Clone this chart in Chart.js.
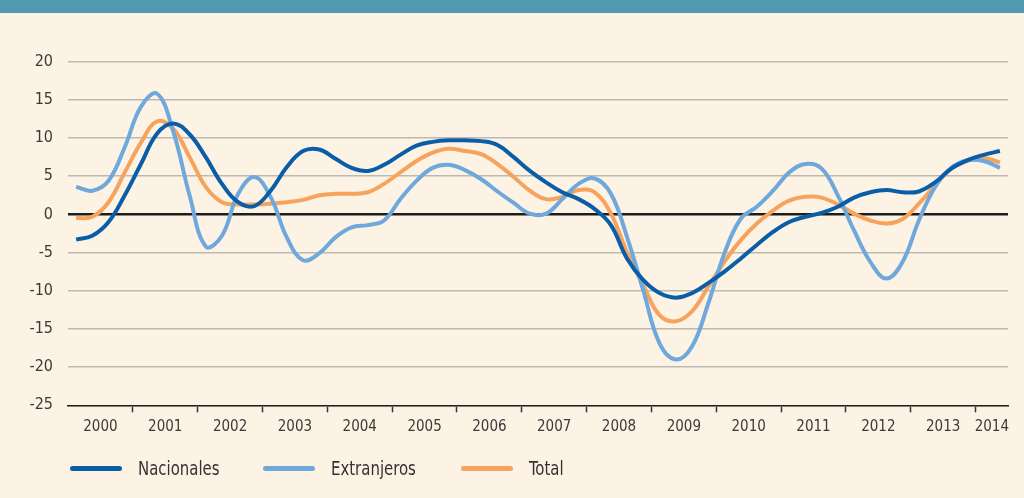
<!DOCTYPE html>
<html>
<head>
<meta charset="utf-8">
<script src="https://cdn.jsdelivr.net/npm/chart.js@4.4.1/dist/chart.umd.min.js"></script>
<style>
    html, body { margin: 0; padding: 0; background: #fdf3e5; }
    #band { height: 13px; background: #5399b0; }
    #wrap { position: relative; width: 1024px; height: 485px; }
    .item { position: absolute; top: 443px; height: 24px; display: flex; align-items: center;
            font: 20px 'Liberation Sans Narrow', 'DejaVu Sans Condensed', 'Roboto', sans-serif; color: #333; }
    .swatch { width: 52px; height: 5px; border-radius: 3px; margin-right: 16px; }
    .name { display: inline-block; transform: scaleX(0.83); transform-origin: left center; white-space: nowrap; }
</style>
</head>
<body>
<div id="band"></div>
<div id="wrap">
    <canvas id="chart"></canvas>
    <div id="legend"></div>
</div>
<script>
const years = ['2000', '2001', '2002', '2003', '2004', '2005', '2006', '2007',
    '2008', '2009', '2010', '2011', '2012', '2013', '2014'];

// quarterly values, 2000-I to 2014-II
const nacionales = [
    -3.3, -2.8, -1.0, 2.5, 6.6, 10.6, 11.9, 10.5, 7.5, 4.0, 1.6, 1.1,
    3.1, 6.2, 8.3, 8.5, 7.3, 6.1, 5.7, 6.5, 7.8, 9.0, 9.5, 9.7,
    9.7, 9.6, 9.1, 7.5, 5.7, 4.2, 2.9, 2.0, 0.7, -1.4, -5.8, -8.6,
    -10.3, -10.9, -10.3, -9.0, -7.5, -5.8, -4.0, -2.3, -1.0, -0.3, 0.2, 1.0,
    2.2, 2.9, 3.2, 2.9, 3.0, 4.2, 6.0, 7.1, 7.8, 8.3
];
const extranjeros = [
    3.6, 3.1, 4.4, 8.8, 14.1, 15.8, 10.8, 2.5, -4.2, -2.8, 2.7, 4.9,
    2.3, -3.0, -6.0, -5.1, -3.0, -1.7, -1.4, -0.8, 2.0, 4.4, 6.1, 6.5,
    5.8, 4.6, 3.0, 1.5, 0.1, 0.1, 2.0, 4.0, 4.7, 2.7, -3.0, -10.0,
    -16.9, -19.0, -17.3, -11.7, -5.1, -0.6, 1.0, 3.1, 5.5, 6.6, 6.0, 2.5,
    -2.1, -6.2, -8.4, -6.2, -0.8, 3.6, 6.1, 7.1, 7.0, 6.1
];
const total = [
    -0.5, -0.3, 1.6, 5.5, 9.4, 12.2, 11.2, 7.5, 3.6, 1.6, 1.3, 1.3,
    1.4, 1.6, 1.9, 2.5, 2.7, 2.7, 2.9, 4.0, 5.5, 7.0, 8.1, 8.6,
    8.3, 7.9, 6.6, 4.9, 3.1, 2.0, 2.3, 3.2, 2.9, 0.1, -5.0, -9.3,
    -13.2, -14.0, -12.7, -9.5, -6.2, -3.4, -1.2, 0.5, 1.8, 2.3, 2.2, 1.3,
    0.1, -0.8, -1.2, -0.6, 1.4, 3.8, 6.0, 7.0, 7.4, 6.8
];

const seriesNames = ['Nacionales', 'Extranjeros', 'Total'];
const seriesColors = ['#0a5ea8', '#6fa8dc', '#f6a35e'];
const seriesValues = [nacionales, extranjeros, total];

// year label at the middle of its quarters, tick mark at each year start
const nPoints = nacionales.length;
const labelPos = {};
const boundaries = [];
years.forEach((y, k) => {
    const count = Math.min(4, nPoints - 4 * k);
    labelPos[4 * k + (count - 1) / 2] = y;
    if (k > 0) boundaries.push(4 * k - 0.5);
});
const xTicks = Object.keys(labelPos).map(Number).concat(boundaries).sort((a, b) => a - b);

const textColor = '#3a3a3a';
const fontFamily = "'Liberation Sans Narrow', 'DejaVu Sans Condensed', sans-serif";

const datasets = seriesNames.map((name, i) => ({
    label: name,
    data: seriesValues[i].map((v, j) => ({ x: j, y: v })),
    borderColor: seriesColors[i],
    backgroundColor: seriesColors[i],
    borderWidth: 4,
    pointRadius: 0,
    tension: 0.4,
    fill: false
}));

const config = {
    type: 'line',
    data: { datasets: datasets },
    options: {
        responsive: true,
        maintainAspectRatio: false,
        animation: false,
        layout: { padding: { top: 48.7, right: 16, bottom: 52.7, left: 0 } },
        plugins: {
            legend: { display: false },
            tooltip: { enabled: false }
        },
        scales: {
            x: {
                type: 'linear',
                min: -0.5,
                max: nPoints - 0.5,
                afterBuildTicks: scale => { scale.ticks = xTicks.map(v => ({ value: v })); },
                afterFit: scale => { scale.height = 40; },
                border: { color: '#222', width: 1.5 },
                grid: {
                    drawOnChartArea: false,
                    tickLength: 7,
                    tickWidth: 1.5,
                    tickColor: ctx => (ctx.tick && boundaries.includes(ctx.tick.value)) ? '#333' : 'rgba(0,0,0,0)'
                },
                ticks: {
                    autoSkip: false,
                    maxRotation: 0,
                    padding: 6,
                    color: textColor,
                    font: { family: fontFamily, size: 15 },
                    callback: v => labelPos[v] || ''
                }
            },
            y: {
                min: -25,
                max: 20,
                afterFit: scale => { scale.width = 68; },
                border: { display: false },
                grid: {
                    drawTicks: false,
                    color: ctx => (ctx.tick && ctx.tick.value === 0) ? '#1d1d1b' : '#bdb9b2',
                    lineWidth: ctx => (ctx.tick && ctx.tick.value === 0) ? 2.5 : 1.5
                },
                ticks: {
                    stepSize: 5,
                    padding: 15,
                    color: textColor,
                    font: { family: fontFamily, size: 16 }
                }
            }
        }
    }
};

var chart = new Chart(document.getElementById('chart'), config);

// legend under the axis
const legendLeft = [70, 263, 461];
const legend = document.getElementById('legend');
seriesNames.forEach((name, i) => {
    const item = document.createElement('div');
    item.className = 'item';
    item.style.left = legendLeft[i] + 'px';
    item.innerHTML = '<span class="swatch" style="background:' + seriesColors[i] + '"></span>' +
        '<span class="name">' + name + '</span>';
    legend.appendChild(item);
});
</script>
</body>
</html>
